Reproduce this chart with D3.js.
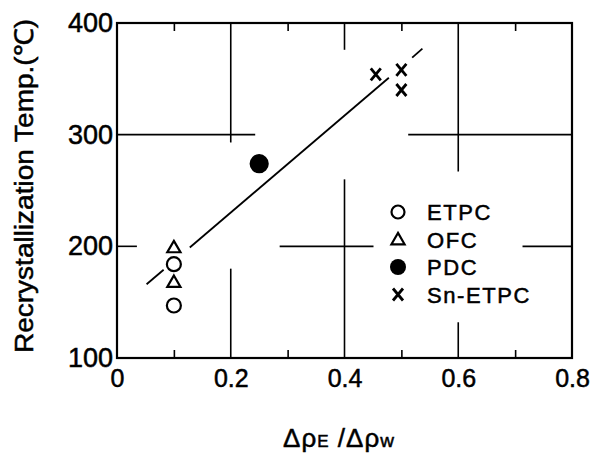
<!DOCTYPE html>
<html><head><meta charset="utf-8">
<script src="https://cdn.jsdelivr.net/npm/d3@7"></script>
<style>
html,body{margin:0;padding:0;background:#fff;}
text{font-family:"Liberation Sans",Arial,sans-serif;fill:#000;stroke:#000;stroke-width:0.5px;}
</style></head>
<body><svg id="c" width="591" height="455"></svg>
<script>
// ---- data ----
const xTicks = [0, 0.2, 0.4, 0.6, 0.8];
const xTickLabels = ["0", "0.2", "0.4", "0.6", "0.8"];
const xMinor = [0.1, 0.3, 0.5, 0.7];
const yTicks = [100, 200, 300, 400];
const etpcX = [0.1, 0.1];
const etpcY = [184, 147];
const ofcX = [0.1, 0.1];
const ofcY = [199, 168];
const pdcX = [0.25];
const pdcY = [274];
const snX = [0.455, 0.5, 0.5];
const snY = [354, 358, 340];
// fitted line, drawn in broken pieces [x0, y0, x1, y1]
const fitSegments = [[0.052, 166, 0.082, 179], [0.128, 199, 0.478, 351], [0.519, 369, 0.537, 377]];
// partial grid lines
const vGrid = [[0.2, 400, 293], [0.2, 180, 100], [0.4, 400, 376], [0.4, 260, 100], [0.6, 400, 267], [0.6, 132, 100]];
const hGrid = [[300, 0, 0.243], [300, 0.512, 0.8], [200, 0, 0.035], [200, 0.286, 0.451], [200, 0.713, 0.8]];
const legendNames = ["ETPC", "OFC", "PDC", "Sn-ETPC"];

const svg = d3.select("#c");
const x = d3.scaleLinear().domain([0, 0.8]).range([117, 572]);
const y = d3.scaleLinear().domain([100, 400]).range([358, 23]);

// grid
svg.append("g").selectAll("line").data(vGrid).join("line")
  .attr("x1", d => x(d[0])).attr("x2", d => x(d[0]))
  .attr("y1", d => y(d[1])).attr("y2", d => y(d[2]))
  .attr("stroke", "#000").attr("stroke-width", 1.6);
svg.append("g").selectAll("line").data(hGrid).join("line")
  .attr("y1", d => y(d[0])).attr("y2", d => y(d[0]))
  .attr("x1", d => x(d[1])).attr("x2", d => x(d[2]))
  .attr("stroke", "#000").attr("stroke-width", 1.6);

// frame
svg.append("rect").attr("x", x(0)).attr("y", y(400))
  .attr("width", x(0.8) - x(0)).attr("height", y(100) - y(400))
  .attr("fill", "none").attr("stroke", "#000").attr("stroke-width", 2.2);

// minor ticks (bottom & top, inward)
const mb = svg.append("g").attr("transform", `translate(0,${y(100)})`)
  .call(d3.axisBottom(x).tickValues(xMinor).tickSize(-8).tickFormat(""));
const mt = svg.append("g").attr("transform", `translate(0,${y(400)})`)
  .call(d3.axisTop(x).tickValues(xMinor).tickSize(-8).tickFormat(""));
[mb, mt].forEach(g => { g.select(".domain").remove(); g.selectAll("line").attr("stroke-width", 1.6); });

// x tick labels
const xa = svg.append("g").attr("transform", `translate(0,${y(100)})`)
  .call(d3.axisBottom(x).tickValues(xTicks).tickSize(0).tickPadding(11)
    .tickFormat((d, i) => xTickLabels[i]));
xa.select(".domain").remove();
xa.selectAll("text").attr("font-size", 25).attr("font-family", null)
  .style("font-family", "Liberation Sans, Arial, sans-serif").style("stroke", "#000").style("stroke-width", "0.5px");

// y tick labels
const ya = svg.append("g").attr("transform", `translate(${x(0)},0)`)
  .call(d3.axisLeft(y).tickValues(yTicks).tickSize(0).tickPadding(4));
ya.select(".domain").remove();
ya.selectAll("text").attr("font-size", 27).attr("font-family", null)
  .style("font-family", "Liberation Sans, Arial, sans-serif").style("stroke", "#000").style("stroke-width", "0.5px");

// fit line
svg.append("g").selectAll("line").data(fitSegments).join("line")
  .attr("x1", d => x(d[0])).attr("y1", d => y(d[1]))
  .attr("x2", d => x(d[2])).attr("y2", d => y(d[3]))
  .attr("stroke", "#000").attr("stroke-width", 1.8);

// markers
function circles(xs, ys, filled, r) {
  svg.append("g").selectAll("circle").data(xs).join("circle")
    .attr("cx", d => x(d)).attr("cy", (d, i) => y(ys[i])).attr("r", r)
    .attr("fill", filled ? "#000" : "#fff").attr("stroke", "#000").attr("stroke-width", 2.2);
}
const tri = d3.symbol().type(d3.symbolTriangle).size(75);
function triangles(xs, ys) {
  svg.append("g").selectAll("path").data(xs).join("path")
    .attr("d", tri)
    .attr("transform", (d, i) => `translate(${x(d)},${y(ys[i]) + 1})`)
    .attr("fill", "#fff").attr("stroke", "#000").attr("stroke-width", 2.2);
}
const crossPath = "M-5,-6L5,6M5,-6L-5,6";
function crosses(xs, ys) {
  svg.append("g").selectAll("path").data(xs).join("path")
    .attr("d", crossPath)
    .attr("transform", (d, i) => `translate(${x(d)},${y(ys[i])})`)
    .attr("fill", "none").attr("stroke", "#000").attr("stroke-width", 2.8);
}
circles(etpcX, etpcY, false, 7);
triangles(ofcX, ofcY);
circles(pdcX, pdcY, true, 8.5);
crosses(snX, snY);

// legend
const lx = 398, ly0 = 212, dy = 27.5;
const lg = svg.append("g");
legendNames.forEach((name, i) => {
  const cy = ly0 + i * dy;
  if (i === 0) lg.append("circle").attr("cx", lx).attr("cy", cy).attr("r", 6.5).attr("fill", "#fff").attr("stroke", "#000").attr("stroke-width", 2.2);
  if (i === 1) lg.append("path").attr("d", tri).attr("transform", `translate(${lx},${cy + 1})`).attr("fill", "#fff").attr("stroke", "#000").attr("stroke-width", 2.2);
  if (i === 2) lg.append("circle").attr("cx", lx).attr("cy", cy).attr("r", 8).attr("fill", "#000");
  if (i === 3) lg.append("path").attr("d", crossPath).attr("transform", `translate(${lx},${cy})`).attr("fill", "none").attr("stroke", "#000").attr("stroke-width", 2.8);
  lg.append("text").attr("x", 427).attr("y", cy + 8).attr("font-size", 22)
    .attr("letter-spacing", 1.6).text(name);
});

// axis titles
svg.append("text").attr("transform", "translate(33,186) rotate(-90)")
  .attr("text-anchor", "middle").attr("font-size", 26)
  .attr("textLength", 334).attr("lengthAdjust", "spacingAndGlyphs")
  .text("Recrystallization Temp.(℃)");

const xt = svg.append("text").attr("x", 339).attr("y", 447).attr("text-anchor", "middle")
  .attr("font-size", 26).attr("letter-spacing", 1);
xt.append("tspan").text("Δρ");
xt.append("tspan").attr("font-size", 17).text("E");
xt.append("tspan").text(" /Δρ");
xt.append("tspan").attr("font-size", 19).text("w");
</script></body></html>
